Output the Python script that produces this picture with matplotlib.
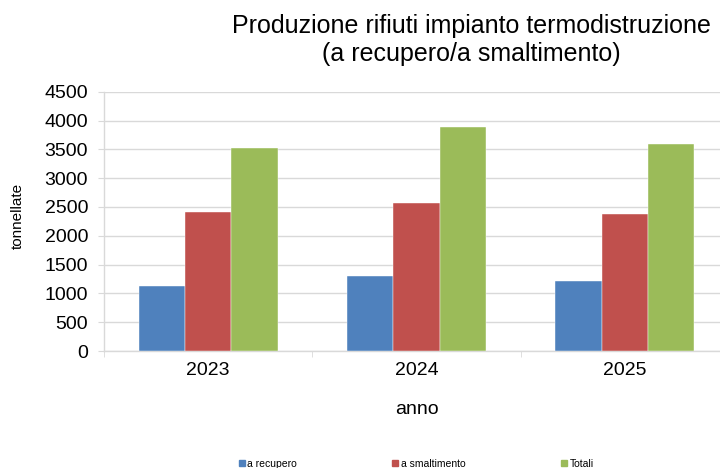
import matplotlib
matplotlib.use("Agg")
import matplotlib.pyplot as plt
from matplotlib.lines import Line2D
import numpy as np

plt.rcParams['font.family'] = ['Liberation Sans', 'DejaVu Sans']

anni = ['2023', '2024', '2025']
a_recupero = [1120, 1305, 1215]
a_smaltimento = [2410, 2575, 2385]
totali = [3530, 3880, 3600]
serie_nomi = ['a recupero', 'a smaltimento', 'Totali']
colori = ['#4F81BD', '#C0504D', '#9BBB59']
y_ticks = [0, 500, 1000, 1500, 2000, 2500, 3000, 3500, 4000, 4500]

fig = plt.figure(figsize=(7.2, 4.68), dpi=100)
ax = fig.add_axes([104 / 720, 117 / 468, 625 / 720, 259.3 / 468])

x = np.arange(len(anni))
w = 1 / 4.5
for i, (vals, col) in enumerate(zip([a_recupero, a_smaltimento, totali], colori)):
    ax.bar(x + (i - 1) * w, vals, width=w, color=col, edgecolor='white',
           linewidth=0.3, zorder=3)

ax.set_xlim(-0.5, len(anni) - 0.5)
ax.set_ylim(0, 4500)
ax.set_yticks(y_ticks)
ax.set_yticklabels([str(v) for v in y_ticks], fontsize=14)
ax.set_xticks(x)
ax.set_xticklabels(anni, fontsize=14)
ax.set_xticks(np.arange(-0.5, len(anni), 1.0), minor=True)

grid_col = '#d9d9d9'
ax.yaxis.grid(True, color=grid_col, linewidth=1.0, zorder=0)
ax.set_axisbelow(True)
for s in ['top', 'right']:
    ax.spines[s].set_visible(False)
for s in ['left', 'bottom']:
    ax.spines[s].set_color(grid_col)
    ax.spines[s].set_linewidth(1.0)

ax.tick_params(axis='y', length=4.5, color=grid_col, pad=7)
ax.tick_params(axis='x', which='major', length=0, pad=8)
ax.tick_params(axis='x', which='minor', length=4, color=grid_col)

ax.set_xlabel('anno', fontsize=14, va='center')
ax.xaxis.set_label_coords(0.5, (351 - 410) / 259.3)
ax.set_ylabel('tonnellate', fontsize=11, va='center')
ax.yaxis.set_label_coords((18 - 104) / 625, 0.52)

fig.text(471 / 720, 1 - 40 / 468,
         'Produzione rifiuti impianto termodistruzione\n(a recupero/a smaltimento)',
         ha='center', va='center', fontsize=18, linespacing=1.2,
         multialignment='center')

handles = [Line2D([0], [0], marker='s', linestyle='none', markersize=4,
                  markerfacecolor=c, markeredgecolor=c) for c in colori]
fig.legend(handles, serie_nomi, loc='center', bbox_to_anchor=(416 / 720, 1 - 464 / 468),
           ncol=3, frameon=False, fontsize=7.5, handlelength=0.6,
           handletextpad=0.2, columnspacing=9.2, borderpad=0)

fig.savefig('out.png', dpi=100)
